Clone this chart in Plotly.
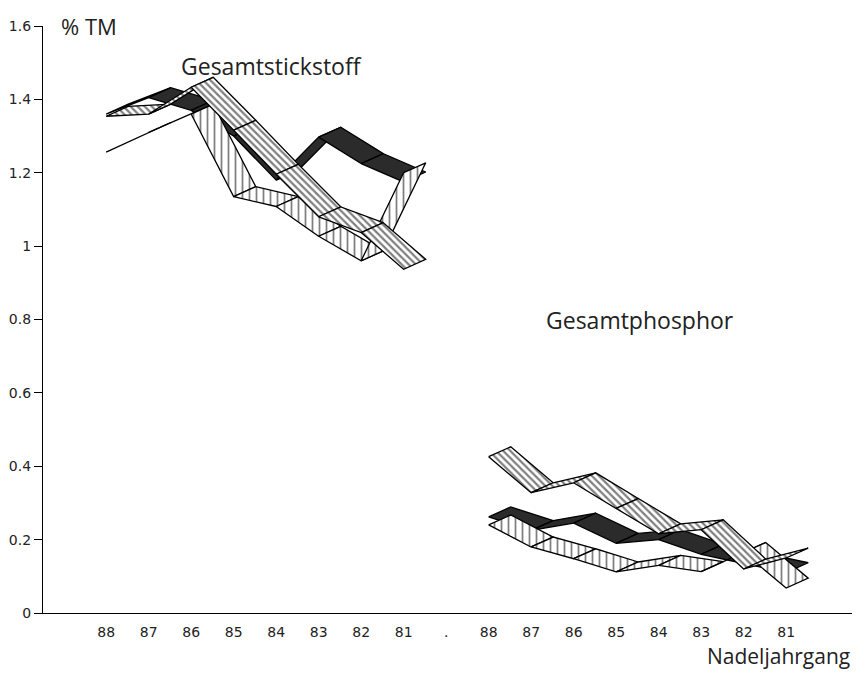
import plotly.graph_objects as go

# Category tick labels (two groups separated by ".")
tick_labels = ["88", "87", "86", "85", "84", "83", "82", "81", ".",
               "88", "87", "86", "85", "84", "83", "82", "81"]

# Gesamtstickstoff (% TM), Nadeljahrgang 88..81
n_vertical = [1.256, 1.31, 1.36, 1.135, 1.108, 1.027, 0.96, 1.20]
n_dark     = [1.36, 1.405, 1.37, 1.30, 1.18, 1.297, 1.225, 1.175]
n_diag     = [1.354, 1.36, 1.433, 1.316, 1.196, 1.08, 1.037, 0.937]

# Gesamtphosphor (% TM), Nadeljahrgang 88..81
p_vertical = [0.24, 0.18, 0.148, 0.112, 0.13, 0.113, 0.165, 0.068]
p_dark     = [0.262, 0.225, 0.245, 0.19, 0.20, 0.16, 0.135, 0.11]
p_diag     = [0.426, 0.328, 0.355, 0.285, 0.216, 0.227, 0.12, 0.15]

n_pos = list(range(0, 8))
p_pos = list(range(9, 17))

# ribbon depth (back edge offset)
DX = 0.52
DY = 0.027

styles = {
    "vertical": dict(fillcolor="white",
                     fillpattern=dict(shape="|", size=7, solidity=0.25,
                                      fgcolor="black", bgcolor="white")),
    "dark": dict(fillcolor="#2b2b2b"),
    "diag": dict(fillcolor="white",
                 fillpattern=dict(shape="\\", size=5, solidity=0.45,
                                  fgcolor="black", bgcolor="white")),
}

fig = go.Figure()


def add_ribbon(xs, ys, style):
    for i in range(len(xs) - 1):
        qx = [xs[i], xs[i + 1], xs[i + 1] + DX, xs[i] + DX, xs[i]]
        qy = [ys[i], ys[i + 1], ys[i + 1] + DY, ys[i] + DY, ys[i]]
        fig.add_trace(go.Scatter(
            x=qx, y=qy, mode="lines", fill="toself",
            line=dict(color="black", width=1.3),
            hoverinfo="skip", showlegend=False, **styles[style]))


for pos, series in ((n_pos, (n_dark, n_vertical, n_diag)),
                    (p_pos, (p_dark, p_vertical, p_diag))):
    add_ribbon(pos, series[0], "dark")
    add_ribbon(pos, series[1], "vertical")
    add_ribbon(pos, series[2], "diag")

fig.update_layout(
    width=859, height=673,
    margin=dict(l=43, r=7, t=26, b=60),
    paper_bgcolor="white", plot_bgcolor="white",
    font=dict(family="Open Sans, DejaVu Sans, sans-serif", color="#222"),
    xaxis=dict(range=[-1.486, 17.55], tickmode="array",
               tickvals=list(range(17)), ticktext=tick_labels,
               showgrid=False, zeroline=False, showline=True,
               linecolor="black", linewidth=1.3, ticks="",
               ticklabelstandoff=6,
               tickfont=dict(size=14, family="DejaVu Sans, sans-serif"),
               fixedrange=True),
    yaxis=dict(range=[0, 1.6], tickmode="array",
               tickvals=[0, 0.2, 0.4, 0.6, 0.8, 1.0, 1.2, 1.4, 1.6],
               ticktext=["0", "0.2", "0.4", "0.6", "0.8", "1", "1.2", "1.4", "1.6"],
               showgrid=False, zeroline=False, showline=True,
               linecolor="black", linewidth=1.3, ticks="outside",
               ticklen=8, tickcolor="black",
               tickfont=dict(size=14, family="DejaVu Sans, sans-serif"),
               fixedrange=True),
    annotations=[
        dict(text="% TM", xref="paper", yref="paper", x=0.02, y=1.0,
             xanchor="left", yanchor="middle", showarrow=False,
             font=dict(size=22)),
        dict(text="Gesamtstickstoff", x=3.9, y=1.49, xref="x", yref="y",
             xanchor="center", yanchor="middle", showarrow=False,
             font=dict(size=23)),
        dict(text="Gesamtphosphor", x=12.55, y=0.80, xref="x", yref="y",
             xanchor="center", yanchor="middle", showarrow=False,
             font=dict(size=23)),
        dict(text="Nadeljahrgang", xref="paper", yref="paper", x=1.0, y=-0.1,
             xanchor="right", yanchor="bottom", showarrow=False,
             font=dict(size=21)),
    ],
)

fig.write_html("out.html")
